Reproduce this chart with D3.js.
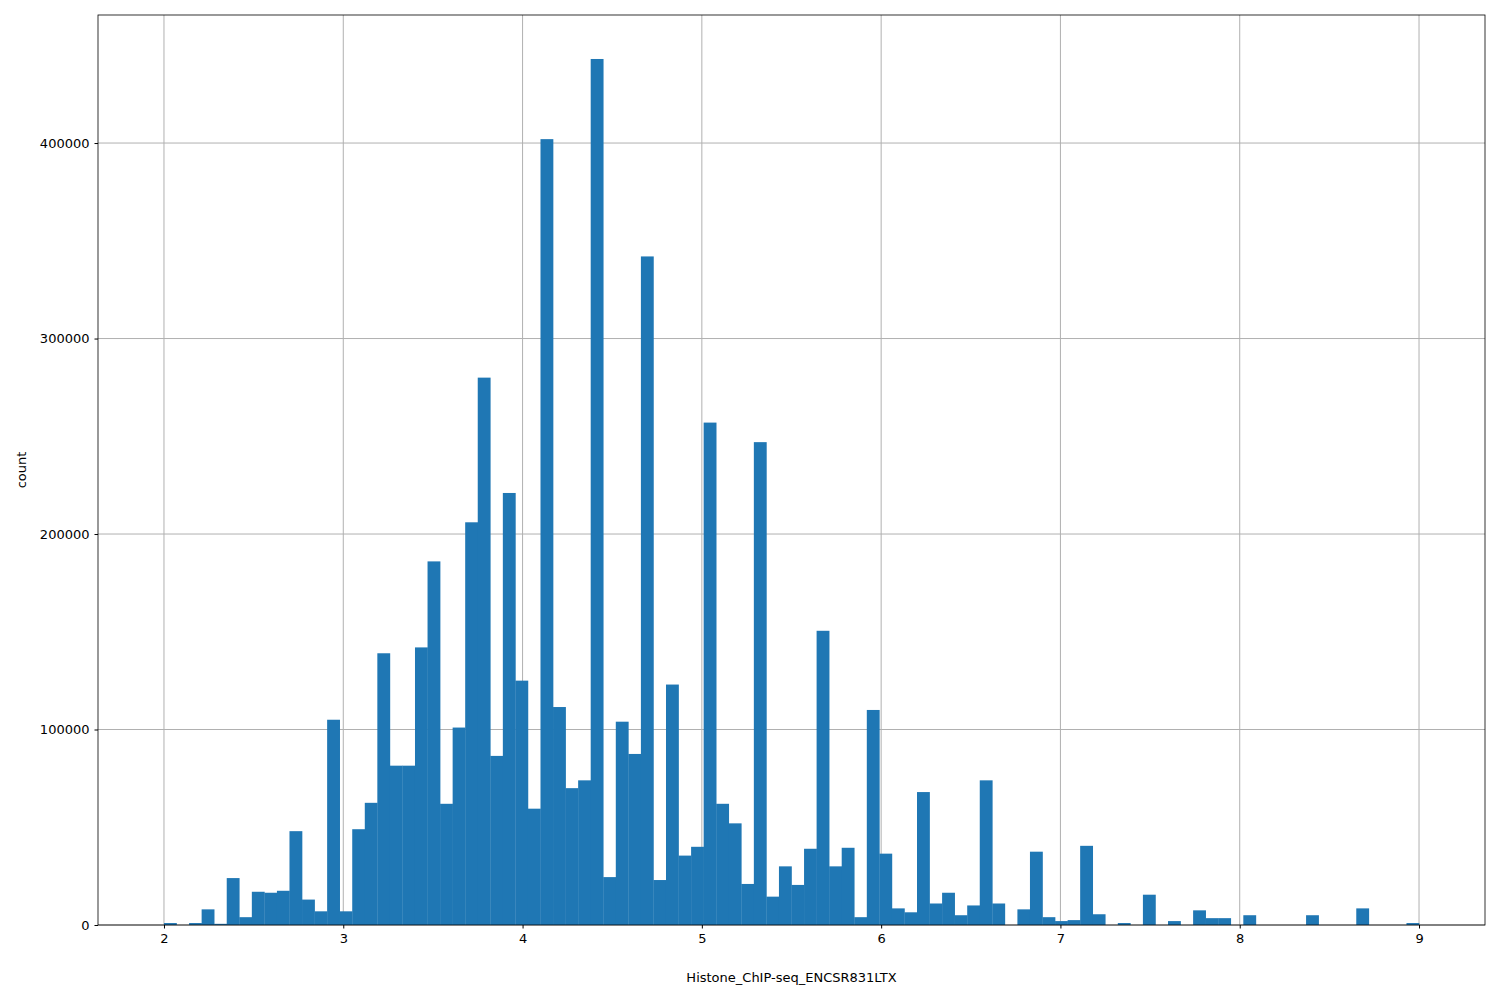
<!DOCTYPE html>
<html>
<head>
<meta charset="utf-8">
<script src="https://cdn.jsdelivr.net/npm/d3@7"></script>
<style>
  body { margin: 0; background: #fff; }
  text { font-family: "DejaVu Sans", sans-serif; }
</style>
</head>
<body>
<script>
// histogram: 100 bins from 2 to 9
const binStart = 2.0
const binWidth = 0.07
const counts = [
  1000, 0, 1000, 8000, 600, 24000, 4000, 17000, 16500, 17500,
  48000, 13000, 7000, 105000, 7000, 49000, 62500, 139000, 81500, 81500,
  142000, 186000, 62000, 101000, 206000, 280000, 86500, 221000, 125000, 59500,
  402000, 111500, 70000, 74000, 443000, 24500, 104000, 87500, 342000, 23000,
  123000, 35500, 40000, 257000, 62000, 52000, 21000, 247000, 14500, 30000,
  20500, 39000, 150500, 30000, 39500, 4000, 110000, 36500, 8500, 6500,
  68000, 11000, 16500, 5000, 10000, 74000, 11000, 0, 8000, 37500,
  4000, 2000, 2500, 40500, 5500, 0, 1000, 0, 15500, 0,
  2000, 0, 7500, 3500, 3500, 0, 5000, 0, 0, 0,
  0, 5000, 0, 0, 0, 8500, 0, 0, 0, 1000
]
const xTicks = [2, 3, 4, 5, 6, 7, 8, 9]
const yTicks = [0, 100000, 200000, 300000, 400000]

const width = 1500, height = 1000
const margin = { left: 98, right: 15, top: 15, bottom: 75 }

const svg = d3.select("body").append("svg")
    .attr("width", width)
    .attr("height", height)

const x = d3.scaleLinear().domain([1.632, 9.368]).range([margin.left, width - margin.right])
const y = d3.scaleLinear().domain([0, 465500]).range([height - margin.bottom, margin.top])

const bins = counts.map((c, i) => ({ x0: binStart + i * binWidth, x1: binStart + (i + 1) * binWidth, c }))

// grid below the bars
const grid = svg.append("g")
grid.selectAll(".gx").data(xTicks).join("line")
    .attr("x1", d => x(d)).attr("x2", d => x(d))
    .attr("y1", margin.top).attr("y2", height - margin.bottom)
    .attr("stroke", "#b0b0b0").attr("stroke-width", 1)
grid.selectAll(".gy").data(yTicks).join("line")
    .attr("x1", margin.left).attr("x2", width - margin.right)
    .attr("y1", d => y(d)).attr("y2", d => y(d))
    .attr("stroke", "#b0b0b0").attr("stroke-width", 1)

svg.append("g").selectAll("rect").data(bins).join("rect")
    .attr("x", d => x(d.x0))
    .attr("width", d => x(d.x1) - x(d.x0) + 0.3)
    .attr("y", d => y(d.c))
    .attr("height", d => y(0) - y(d.c))
    .attr("fill", "#1f77b4")

const xAxis = svg.append("g")
    .attr("transform", `translate(0,${height - margin.bottom})`)
    .call(d3.axisBottom(x).tickValues(xTicks).tickFormat(d3.format("d")).tickSize(3.5).tickPadding(5))
const yAxis = svg.append("g")
    .attr("transform", `translate(${margin.left},0)`)
    .call(d3.axisLeft(y).tickValues(yTicks).tickFormat(d3.format("d")).tickSize(3.5).tickPadding(5))
for (const a of [xAxis, yAxis]) {
    a.select(".domain").remove()
    a.selectAll("text").attr("font-size", 13).attr("fill", "#000").style("font-family", "DejaVu Sans")
    a.selectAll("line").attr("stroke", "#000")
}

svg.append("rect")
    .attr("x", margin.left).attr("y", margin.top)
    .attr("width", width - margin.left - margin.right)
    .attr("height", height - margin.top - margin.bottom)
    .attr("fill", "none").attr("stroke", "#000").attr("stroke-width", 0.8)

svg.append("text")
    .attr("x", (margin.left + width - margin.right) / 2)
    .attr("y", 982)
    .attr("text-anchor", "middle")
    .attr("font-size", 13)
    .text("Histone_ChIP-seq_ENCSR831LTX")

svg.append("text")
    .attr("transform", `translate(26,${(margin.top + height - margin.bottom) / 2}) rotate(-90)`)
    .attr("text-anchor", "middle")
    .attr("font-size", 13)
    .text("count")
</script>
</body>
</html>
